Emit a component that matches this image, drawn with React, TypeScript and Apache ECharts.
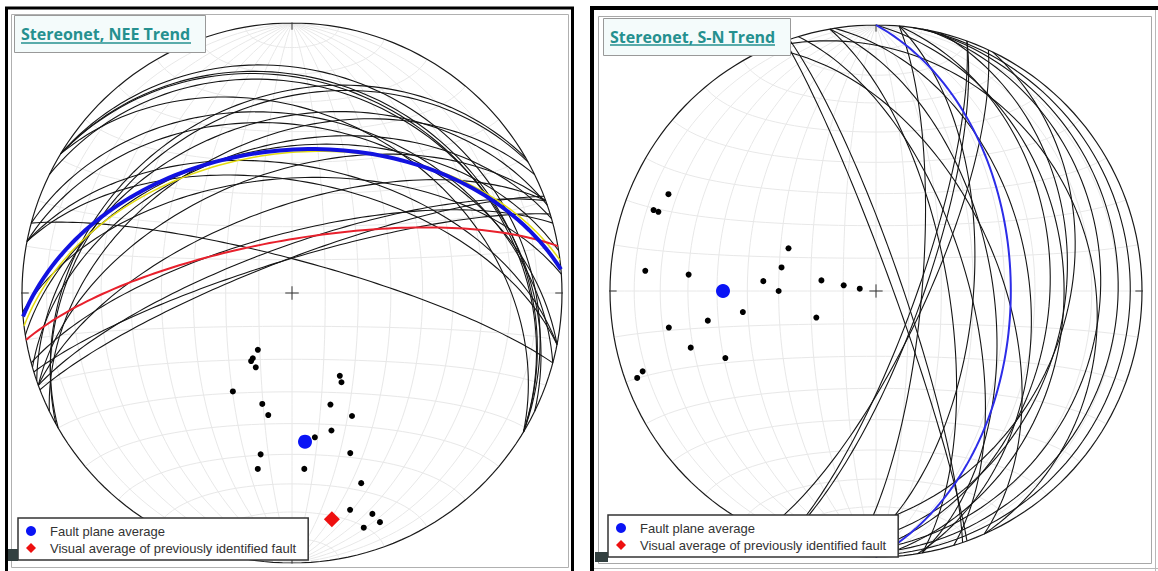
import React, { useEffect, useRef } from 'react';
import * as echarts from 'echarts';

// ---- data: poles to planes [trend, plunge] (degrees), lower hemisphere, equal-area ----
const leftPoles: [number, number][] = [
  [211, 70], [211, 67], [211, 66], [206, 65], [150, 61], [151, 59], [211, 55],
  [195, 55], [161, 54], [191, 52], [154, 48], [164, 46], [171, 45], [191, 39],
  [160, 37], [191, 34], [176, 35], [160, 26], [165, 18], [160, 14], [159, 10],
  [163, 10], [195, 10],
];
const leftMeanPole: [number, number] = [175, 44];
const leftPrevFaultPole: [number, number] = [170, 16];
const leftHighlightPole: [number, number] = [173, 43];

const rightPoles: [number, number][] = [
  [295, 15], [290, 12], [290, 14], [296, 60], [284, 60], [275, 14], [275, 30],
  [275, 55], [281, 73], [280, 80], [278, 85], [270, 60], [261, 48], [246, 70],
  [260, 22], [260, 36], [253, 28], [246, 38], [251, 8], [250, 5],
];
const rightMeanPole: [number, number] = [270, 42];

const panelTitles = ['Stereonet, NEE Trend', 'Stereonet, S-N Trend'];
const legendNames = ['Fault plane average', 'Visual average of previously identified fault'];
const netStep = 10;

// ---- projection helpers ----
const D2R = Math.PI / 180;
function project(e: number, n: number, d: number): [number, number] {
  if (d < 0) { e = -e; n = -n; d = -d; }
  const k = Math.sqrt(1 / (1 + d));
  return [e * k, n * k];
}
function poleXY(p: [number, number]): [number, number] {
  const t = p[0] * D2R, pl = p[1] * D2R;
  return project(Math.cos(pl) * Math.sin(t), Math.cos(pl) * Math.cos(t), Math.sin(pl));
}
function greatCircle(dd: number, dip: number): [number, number][] {
  const s = (dd - 90) * D2R, a = dd * D2R, dp = dip * D2R;
  const sv = [Math.sin(s), Math.cos(s), 0];
  const dv = [Math.cos(dp) * Math.sin(a), Math.cos(dp) * Math.cos(a), Math.sin(dp)];
  const pts: [number, number][] = [];
  for (let k = 0; k <= 180; k += 2) {
    const c = Math.cos(k * D2R), sn = Math.sin(k * D2R);
    pts.push(project(c * sv[0] + sn * dv[0], c * sv[1] + sn * dv[1], c * sv[2] + sn * dv[2]));
  }
  return pts;
}
function planeOfPole(p: [number, number]): [number, number][] {
  return greatCircle((p[0] + 180) % 360, 90 - p[1]);
}
function netPaths(): [number, number][][] {
  const paths: [number, number][][] = [];
  for (let dip = netStep; dip <= 90; dip += netStep) {
    paths.push(greatCircle(90, dip));
    if (dip < 90) paths.push(greatCircle(270, dip));
  }
  for (let phi = netStep; phi <= 90; phi += netStep) {
    for (const sign of [1, -1]) {
      if (phi === 90 && sign === -1) continue;
      const pts: [number, number][] = [];
      const cp = Math.cos(phi * D2R), sp = Math.sin(phi * D2R);
      for (let psi = 0; psi <= 180; psi += 3) {
        const c = Math.cos(psi * D2R), s = Math.sin(psi * D2R);
        pts.push(project(sp * c, sign * cp, sp * s));
      }
      paths.push(pts);
    }
  }
  return paths;
}
function primitive(): [number, number][] {
  const pts: [number, number][] = [];
  for (let a = 0; a <= 360; a += 2) pts.push([Math.cos(a * D2R), Math.sin(a * D2R)]);
  return pts;
}
const tickMarks: [number, number][][] = [
  [[-0.025, 0], [0.025, 0]], [[0, -0.025], [0, 0.025]],
  [[-1.025, 0], [-0.975, 0]], [[0.975, 0], [1.025, 0]],
  [[0, 0.975], [0, 1.025]], [[0, -1.025], [0, -0.975]],
];

const FONT = 'Liberation Sans';

function linesSeries(idx: number, paths: [number, number][][], color: string, width: number, z = 2) {
  return {
    type: 'lines', coordinateSystem: 'cartesian2d', xAxisIndex: idx, yAxisIndex: idx,
    polyline: true, silent: true, z,
    data: paths.map((c) => ({ coords: c })),
    lineStyle: { color, width, opacity: 1 },
  };
}

function buildOption() {
  const grids = [
    { left: 22, top: 23, width: 540, height: 540 },
    { left: 610, top: 25, width: 532, height: 532 },
  ];
  const axis = (i: number) => ({ type: 'value', min: -1, max: 1, gridIndex: i, show: false });
  const net = netPaths();
  const prim = [primitive()];
  const series: any[] = [];
  [0, 1].forEach((i) => {
    const poles = i === 0 ? leftPoles : rightPoles;
    const mean = i === 0 ? leftMeanPole : rightMeanPole;
    series.push(linesSeries(i, net, '#e8e8e8', 1, 1));
    series.push(linesSeries(i, prim, '#1a1a1a', 1.2));
    series.push(linesSeries(i, tickMarks, '#333', 1));
    series.push(linesSeries(i, poles.map(planeOfPole), '#151515', 1.1));
    if (i === 0) {
      series.push(linesSeries(i, [planeOfPole(leftHighlightPole)], '#e4dc10', 1.5));
      series.push(linesSeries(i, [planeOfPole(leftPrevFaultPole)], '#e8202c', 2));
    }
    series.push(linesSeries(i, [planeOfPole(mean)], i === 0 ? '#1212e0' : '#2c2ce8', i === 0 ? 4 : 2));
    series.push({
      type: 'scatter', xAxisIndex: i, yAxisIndex: i, silent: true, z: 3,
      data: poles.map(poleXY), symbolSize: 6, itemStyle: { color: '#000', opacity: 1 },
    });
    series.push({
      type: 'scatter', name: legendNames[0], xAxisIndex: i, yAxisIndex: i, silent: true, z: 3,
      data: [poleXY(mean)], symbol: 'circle', symbolSize: 14, itemStyle: { color: '#0a14f5', opacity: 1 },
    });
    series.push({
      type: 'scatter', name: legendNames[1], xAxisIndex: i, yAxisIndex: i, silent: true, z: 3,
      data: i === 0 ? [poleXY(leftPrevFaultPole)] : [], symbol: 'diamond', symbolSize: 16,
      itemStyle: { color: '#ee1010', opacity: 1 },
    });
  });

  const legendBase = {
    orient: 'vertical', backgroundColor: '#fff', borderColor: '#333', borderWidth: 1.5,
    padding: [6, 12, 5, 8], itemGap: 3, itemWidth: 10, itemHeight: 10, z: 10,
    textStyle: { fontSize: 13, color: '#333', fontFamily: FONT, lineHeight: 14, padding: [0, 0, 0, 9] },
    data: [{ name: legendNames[0], icon: 'circle' }, { name: legendNames[1], icon: 'diamond' }],
    selectedMode: false,
  };
  const titleBase = {
    borderColor: '#999', borderWidth: 1, backgroundColor: '#f4fbfb', padding: [11, 16, 11, 7],
    textStyle: { color: '#25908f', fontSize: 16, fontWeight: 'bold', fontFamily: 'Open Sans' },
  };

  const graphic: any[] = [
    { type: 'rect', shape: { x: 6.5, y: 8, width: 566, height: 575 }, style: { fill: 'none', stroke: '#000', lineWidth: 3 }, z: 20 },
    { type: 'rect', shape: { x: 11.5, y: 14.5, width: 557, height: 553 }, style: { fill: 'none', stroke: '#b0b0b0', lineWidth: 1 }, z: 20 },
    { type: 'rect', shape: { x: 590, y: 6, width: 568, height: 4 }, style: { fill: '#000' }, z: 20 },
    { type: 'rect', shape: { x: 590, y: 6, width: 4, height: 565 }, style: { fill: '#000' }, z: 20 },
    { type: 'rect', shape: { x: 598.5, y: 16.5, width: 553, height: 547 }, style: { fill: 'none', stroke: '#a8a8a8', lineWidth: 1 }, z: 20 },
    { type: 'line', shape: { x1: 1155.5, y1: 10, x2: 1155.5, y2: 571 }, style: { stroke: '#b8b8b8', lineWidth: 1 }, z: 20 },
    { type: 'line', shape: { x1: 594, y1: 568.5, x2: 1158, y2: 568.5 }, style: { stroke: '#b8b8b8', lineWidth: 1 }, z: 20 },
    { type: 'rect', shape: { x: 8, y: 549, width: 10, height: 12 }, style: { fill: '#334040' }, z: 20 },
    { type: 'rect', shape: { x: 595, y: 552, width: 13, height: 10 }, style: { fill: '#334040' }, z: 20 },
    { type: 'line', shape: { x1: 21, y1: 43, x2: 191, y2: 43 }, style: { stroke: '#25908f', lineWidth: 1.5 }, z: 20 },
    { type: 'line', shape: { x1: 610, y1: 45, x2: 775, y2: 45 }, style: { stroke: '#25908f', lineWidth: 1.5 }, z: 20 },
  ];

  return {
    animation: false,
    backgroundColor: '#fff',
    textStyle: { fontFamily: FONT },
    grid: grids,
    xAxis: [axis(0), axis(1)],
    yAxis: [axis(0), axis(1)],
    title: [
      { ...titleBase, text: panelTitles[0], left: 14, top: 15 },
      { ...titleBase, text: panelTitles[1], left: 603, top: 18 },
    ],
    legend: [
      { ...legendBase, left: 18, top: 518 },
      { ...legendBase, left: 608, top: 515 },
    ],
    graphic,
    series,
  };
}

export default function App() {
  const ref = useRef<HTMLDivElement>(null);
  useEffect(() => {
    document.body.style.margin = '0';
    const chart = echarts.init(ref.current!, undefined, { renderer: 'svg' });
    chart.setOption(buildOption() as any);
    return () => chart.dispose();
  }, []);
  return (
    <div
      ref={ref}
      style={{ position: 'absolute', left: 0, top: 0, width: 1158, height: 571, background: '#fff' }}
    />
  );
}
